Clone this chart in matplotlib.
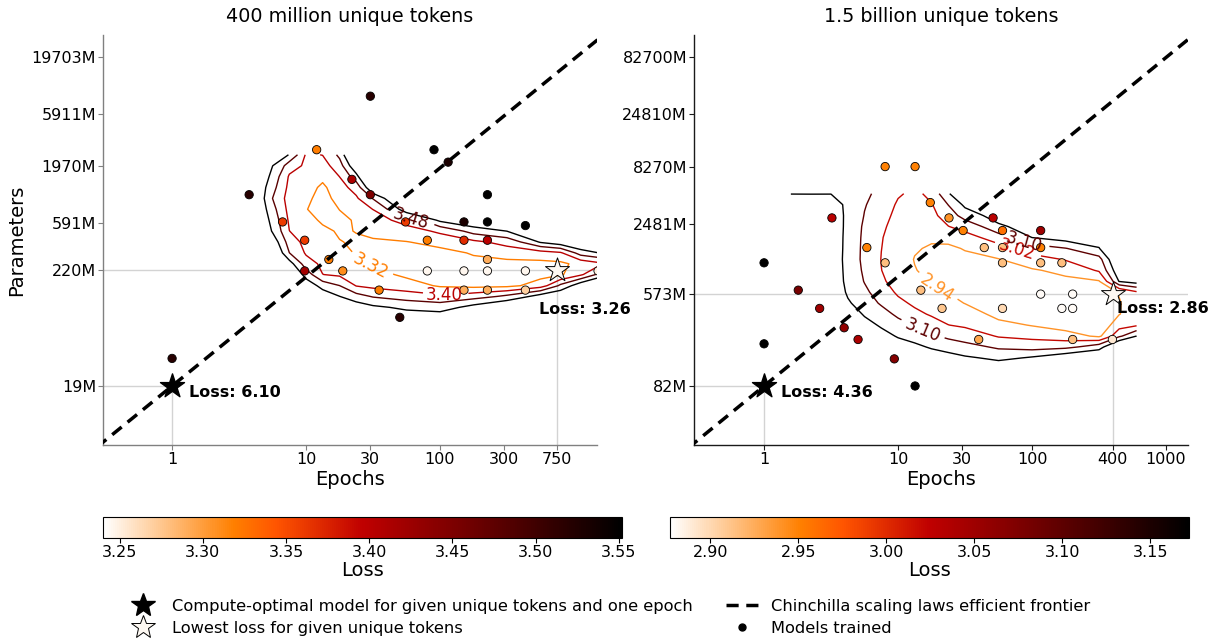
import numpy as np
import matplotlib
matplotlib.use("Agg")
import matplotlib.pyplot as plt
from matplotlib.colors import Normalize
from matplotlib.cm import ScalarMappable
from matplotlib.lines import Line2D

# ---------------- data: 400 million unique tokens ----------------
L_title = "400 million unique tokens"
L_model_epochs = [30.2, 12.0, 90.2, 115, 3.76, 22.0, 30.2, 226, 6.68, 55.3, 151, 226, 434,
                  9.77, 80.4, 151, 226, 14.8, 226, 9.77, 18.8, 80.4, 151, 226, 434, 1514,
                  35.1, 151, 226, 434, 50.1, 1.0]
L_model_params = [8660, 2795, 2795, 2150, 1081, 1494, 1081, 1081, 608, 608, 608, 608, 563,
                  413, 413, 413, 413, 275, 275, 216, 216, 216, 216, 216, 216, 216,
                  144, 144, 144, 144, 81, 34]
L_model_loss = [3.52, 3.32, 3.60, 3.53, 3.52, 3.41, 3.45, 3.55, 3.36, 3.36, 3.53, 3.57, 3.58,
                3.36, 3.32, 3.37, 3.40, 3.32, 3.29, 3.42, 3.31, 3.245, 3.245, 3.245, 3.245, 3.25,
                3.32, 3.29, 3.29, 3.27, 3.52, 3.52]
L_opt = (1, 19, 6.10)
L_best = (750, 220, 3.26)
L_xticks = [1, 10, 30, 100, 300, 750]
L_yticks = [19, 220, 591, 1970, 5911, 19703]
L_xlim = (0.305, 1486)
L_ylim = (5.46, 31550)
L_vmin, L_vmax = 3.24, 3.552
L_cbar_ticks = [3.25, 3.30, 3.35, 3.40, 3.45, 3.50, 3.55]
L_levels = [3.32, 3.40, 3.48, 3.56]
L_grid_epochs = [3.16, 4.22, 5.62, 7.50, 10.0, 13.3, 17.8, 23.7, 31.6, 56.2, 100, 178, 316, 562, 794, 1122, 1585]
L_grid_params = [2512, 1995, 1585, 1259, 1000, 794, 631, 501, 398, 316, 251, 200, 158, 126, 100, 79.4, 63.1]
# each inner list: loss along params (top to bottom) for one epoch value
L_loss_by_epoch = [
    [3.90, 3.87, 3.83, 3.80, 3.79, 3.80, 3.82, 3.85, 3.88, 3.92, 3.96, 4.00, 4.04, 4.08, 4.12, 4.16, 4.20],
    [3.72, 3.69, 3.66, 3.63, 3.63, 3.64, 3.66, 3.69, 3.72, 3.76, 3.80, 3.85, 3.90, 3.95, 4.00, 4.05, 4.10],
    [3.64, 3.562, 3.53, 3.505, 3.48, 3.506, 3.529, 3.551, 3.61, 3.66, 3.70, 3.75, 3.80, 3.85, 3.90, 3.95, 4.00],
    [3.555, 3.44, 3.39, 3.377, 3.362, 3.372, 3.387, 3.401, 3.441, 3.481, 3.595, 3.68, 3.76, 3.84, 3.90, 3.95, 4.00],
    [3.39, 3.383, 3.366, 3.349, 3.333, 3.322, 3.34, 3.356, 3.373, 3.39, 3.433, 3.52, 3.617, 3.71, 3.78, 3.84, 3.90],
    [3.402, 3.37, 3.341, 3.305, 3.295, 3.298, 3.31, 3.332, 3.349, 3.366, 3.383, 3.401, 3.526, 3.613, 3.70, 3.77, 3.83],
    [3.50, 3.447, 3.401, 3.374, 3.347, 3.321, 3.31, 3.313, 3.322, 3.344, 3.365, 3.385, 3.481, 3.561, 3.63, 3.70, 3.76],
    [3.76, 3.645, 3.53, 3.43, 3.39, 3.37, 3.325, 3.322, 3.313, 3.313, 3.335, 3.365, 3.396, 3.51, 3.605, 3.68, 3.75],
    [4.06, 3.93, 3.79, 3.66, 3.485, 3.401, 3.367, 3.336, 3.313, 3.30, 3.31, 3.34, 3.376, 3.473, 3.575, 3.65, 3.72],
    [4.28, 4.15, 4.00, 3.88, 3.75, 3.62, 3.436, 3.365, 3.318, 3.30, 3.29, 3.305, 3.35, 3.442, 3.54, 3.615, 3.68],
    [4.37, 4.24, 4.10, 3.98, 3.84, 3.71, 3.58, 3.418, 3.344, 3.30, 3.287, 3.29, 3.31, 3.41, 3.53, 3.60, 3.66],
    [4.43, 4.30, 4.17, 4.03, 3.90, 3.77, 3.64, 3.516, 3.383, 3.327, 3.30, 3.28, 3.295, 3.445, 3.59, 3.66, 3.72],
    [4.48, 4.35, 4.20, 4.08, 3.95, 3.82, 3.69, 3.561, 3.433, 3.353, 3.30, 3.27, 3.30, 3.50, 3.65, 3.75, 3.85],
    [4.60, 4.50, 4.36, 4.23, 4.10, 3.97, 3.84, 3.71, 3.57, 3.368, 3.30, 3.29, 3.36, 3.60, 3.70, 3.80, 3.90],
    [4.66, 4.53, 4.40, 4.27, 4.14, 4.00, 3.88, 3.75, 3.62, 3.39, 3.305, 3.31, 3.50, 3.63, 3.72, 3.82, 3.90],
    [4.70, 4.58, 4.45, 4.31, 4.18, 4.05, 3.92, 3.79, 3.66, 3.52, 3.345, 3.385, 3.62, 3.72, 3.80, 3.88, 3.95],
    [4.76, 4.63, 4.50, 4.36, 4.23, 4.10, 3.96, 3.83, 3.70, 3.565, 3.385, 3.52, 3.68, 3.78, 3.86, 3.93, 3.98],
]
L_label_pos = [(30.2, 235), (107, 128), (60.3, 629)]

# ---------------- data: 1.5 billion unique tokens ----------------
R_title = "1.5 billion unique tokens"
R_model_epochs = [8.01, 13.4, 17.4, 24.0, 51.2, 3.21, 30.6, 60.2, 116, 5.85, 44, 60.2, 116,
                  8.01, 60.2, 116, 167, 1.0, 1.80, 14.8, 116, 201, 2.6, 21.3, 60.2, 167, 201,
                  3.96, 5.03, 40, 201, 398, 1.0, 9.38, 13.4]
R_model_params = [8270, 8270, 3880, 2810, 2810, 2810, 2155, 2155, 2155, 1506, 1506, 1506, 1506,
                  1093, 1093, 1093, 1093, 1093, 615, 615, 566, 566, 419, 419, 419, 419, 419,
                  279, 218, 218, 218, 218, 199, 145, 82]
R_model_loss = [2.95, 2.95, 2.95, 2.94, 3.03, 3.03, 2.95, 2.96, 3.05, 2.95, 2.915, 2.915, 2.95,
                2.915, 2.915, 2.915, 2.915, 3.40, 3.08, 2.915, 2.88, 2.88, 3.05, 2.91, 2.90, 2.88, 2.88,
                3.06, 3.04, 2.93, 2.915, 2.89, 3.40, 3.07, 3.30]
R_opt = (1, 82, 4.36)
R_best = (400, 573, 2.86)
R_xticks = [1, 10, 30, 100, 400, 1000]
R_yticks = [82, 573, 2481, 8270, 24810, 82700]
R_xlim = (0.30, 1459)
R_ylim = (23.7, 131600)
R_vmin, R_vmax = 2.877, 3.172
R_cbar_ticks = [2.90, 2.95, 3.00, 3.05, 3.10, 3.15]
R_levels = [2.94, 3.02, 3.10, 3.18]
R_grid_epochs = [1.585, 2.24, 3.16, 4.22, 5.62, 7.50, 10.0, 13.3, 17.8, 23.7, 31.6, 56.2, 100, 178, 316, 447, 603]
R_grid_params = [4677, 3715, 2951, 2344, 1862, 1479, 1175, 933, 741, 589, 468, 372, 295, 234, 186, 148, 117.5, 93.3]
R_loss_by_epoch = [
    [3.178, 3.23, 3.28, 3.32, 3.35, 3.37, 3.38, 3.39, 3.40, 3.41, 3.42, 3.43, 3.45, 3.47, 3.49, 3.51, 3.53, 3.55],
    [3.178, 3.22, 3.26, 3.29, 3.31, 3.32, 3.33, 3.33, 3.34, 3.35, 3.36, 3.38, 3.40, 3.42, 3.44, 3.46, 3.48, 3.50],
    [3.178, 3.225, 3.24, 3.24, 3.233, 3.23, 3.225, 3.228, 3.23, 3.25, 3.28, 3.29, 3.33, 3.38, 3.43, 3.48, 3.52, 3.56],
    [3.157, 3.157, 3.156, 3.155, 3.155, 3.155, 3.155, 3.157, 3.16, 3.167, 3.19, 3.23, 3.28, 3.33, 3.38, 3.43, 3.48, 3.52],
    [3.118, 3.105, 3.097, 3.087, 3.082, 3.079, 3.077, 3.085, 3.096, 3.116, 3.137, 3.17, 3.21, 3.25, 3.30, 3.35, 3.40, 3.45],
    [3.071, 3.058, 3.043, 3.032, 3.024, 3.021, 3.018, 3.021, 3.031, 3.058, 3.09, 3.129, 3.168, 3.21, 3.26, 3.31, 3.36, 3.41],
    [3.029, 3.01, 3.0, 2.99, 2.982, 2.976, 2.974, 2.978, 2.988, 3.007, 3.039, 3.083, 3.127, 3.172, 3.22, 3.27, 3.32, 3.37],
    [3.0, 2.99, 2.98, 2.97, 2.957, 2.947, 2.937, 2.943, 2.96, 2.985, 3.005, 3.039, 3.089, 3.143, 3.20, 3.25, 3.30, 3.35],
    [3.046, 3.015, 3.0, 2.975, 2.955, 2.93, 2.92, 2.92, 2.93, 2.957, 2.983, 3.01, 3.054, 3.109, 3.169, 3.23, 3.28, 3.33],
    [3.175, 3.102, 3.06, 3.018, 2.967, 2.925, 2.915, 2.912, 2.918, 2.935, 2.96, 2.99, 3.021, 3.082, 3.146, 3.21, 3.26, 3.31],
    [3.24, 3.20, 3.135, 3.052, 2.99, 2.946, 2.92, 2.905, 2.90, 2.91, 2.938, 2.973, 3.007, 3.061, 3.126, 3.19, 3.25, 3.30],
    [3.35, 3.29, 3.23, 3.162, 3.066, 2.992, 2.937, 2.91, 2.895, 2.89, 2.895, 2.915, 2.961, 3.013, 3.086, 3.162, 3.23, 3.28],
    [3.42, 3.36, 3.30, 3.24, 3.181, 3.067, 2.99, 2.932, 2.905, 2.89, 2.885, 2.895, 2.935, 2.998, 3.065, 3.19, 3.25, 3.30],
    [3.47, 3.41, 3.35, 3.29, 3.224, 3.097, 3.026, 2.966, 2.92, 2.895, 2.885, 2.885, 2.905, 2.97, 3.08, 3.24, 3.30, 3.35],
    [3.48, 3.42, 3.36, 3.30, 3.238, 3.175, 3.072, 3.031, 2.935, 2.905, 2.89, 2.885, 2.895, 2.925, 3.15, 3.26, 3.33, 3.40],
    [3.67, 3.61, 3.55, 3.49, 3.43, 3.37, 3.31, 3.25, 3.185, 2.945, 2.935, 2.937, 2.981, 3.086, 3.30, 3.40, 3.48, 3.55],
    [3.70, 3.64, 3.58, 3.52, 3.46, 3.40, 3.34, 3.28, 3.22, 3.01, 2.985, 2.985, 3.008, 3.182, 3.30, 3.40, 3.48, 3.55],
]
R_label_pos = [(19, 615), (76.9, 1426), (86.5, 1640), (15, 257)]

legend_labels = ["Compute-optimal model for given unique tokens and one epoch",
                 "Lowest loss for given unique tokens",
                 "Chinchilla scaling laws efficient frontier",
                 "Models trained"]

# ---------------- drawing ----------------
cmap = plt.get_cmap("gist_heat_r")
W, H = 1217, 641
fig = plt.figure(figsize=(W / 100, H / 100), dpi=100)

ax_L = fig.add_axes([103 / W, 1 - 445 / H, 494 / W, 410 / H])
ax_R = fig.add_axes([694 / W, 1 - 445 / H, 494 / W, 410 / H])
cax_L = fig.add_axes([103 / W, 1 - 538 / H, 519 / W, 21 / H])
cax_R = fig.add_axes([670 / W, 1 - 538 / H, 519 / W, 21 / H])

panels = [
    (ax_L, cax_L, L_title, L_model_epochs, L_model_params, L_model_loss, L_opt, L_best,
     L_xticks, L_yticks, L_xlim, L_ylim, L_vmin, L_vmax, L_cbar_ticks, L_levels,
     L_grid_epochs, L_grid_params, L_loss_by_epoch, L_label_pos, "#808080",
     (-18, -39)),
    (ax_R, cax_R, R_title, R_model_epochs, R_model_params, R_model_loss, R_opt, R_best,
     R_xticks, R_yticks, R_xlim, R_ylim, R_vmin, R_vmax, R_cbar_ticks, R_levels,
     R_grid_epochs, R_grid_params, R_loss_by_epoch, R_label_pos, "#1a1a1a",
     (4, -15)),
]

guide = "#d3d3d3"
for (ax, cax, title, me, mp, ml, opt, best, xt, yt, xlim, ylim, vmin, vmax, cbt, levels,
     ge, gp, gl, lpos, spc, best_off) in panels:
    norm = Normalize(vmin=vmin, vmax=vmax)
    ax.set_xscale("log")
    ax.set_yscale("log")
    ax.set_xlim(xlim)
    ax.set_ylim(ylim)

    # guide lines
    ax.plot([xlim[0], opt[0]], [opt[1], opt[1]], color=guide, lw=1, zorder=1)
    ax.plot([opt[0], opt[0]], [ylim[0], opt[1]], color=guide, lw=1, zorder=1)
    ax.axhline(best[1], color=guide, lw=1, zorder=1)
    ax.plot([best[0], best[0]], [ylim[0], best[1]], color=guide, lw=1, zorder=1)

    # contours
    Z = np.array(gl).T
    cs = ax.contour(np.array(ge), np.array(gp), Z, levels=levels, cmap=cmap, norm=norm,
                    linewidths=1.0, zorder=2)
    ax.clabel(cs, levels=levels[:3], manual=lpos, inline=True, fontsize=12, fmt="%.2f")

    # chinchilla frontier (params proportional to epochs through compute-optimal point)
    fe = np.array([xlim[0] * 0.9, xlim[1] * 1.1])
    ax.plot(fe, opt[1] * fe / opt[0], color="black", lw=2.5, ls=(0, (3.5, 2.2)), zorder=4)

    # models
    ax.scatter(me, mp, c=ml, cmap=cmap, norm=norm, s=36, edgecolors="black",
               linewidths=0.6, zorder=3)

    # stars
    ax.scatter([opt[0]], [opt[1]], marker="*", s=330, color="black", zorder=6)
    ax.scatter([best[0]], [best[1]], marker="*", s=330, facecolor="#fdf8f2",
               edgecolors="black", linewidths=0.7, zorder=6)
    ax.annotate(f"Loss: {opt[2]:.2f}", (opt[0], opt[1]), xytext=(17, -7),
                textcoords="offset pixels", ha="left", va="center", fontsize=11.5,
                fontweight="bold", annotation_clip=False, zorder=7)
    ax.annotate(f"Loss: {best[2]:.2f}", (best[0], best[1]), xytext=best_off,
                textcoords="offset pixels", ha="left", va="center", fontsize=11.5,
                fontweight="bold", annotation_clip=False, zorder=7)

    # axes styling
    ax.set_xticks(xt, labels=[str(t) for t in xt])
    ax.set_yticks(yt, labels=[f"{t}M" for t in yt])
    ax.minorticks_off()
    ax.tick_params(labelsize=11.5, length=3.5, width=0.8, color=spc, pad=1.5)
    for s in ("top", "right"):
        ax.spines[s].set_visible(False)
    for s in ("left", "bottom"):
        ax.spines[s].set_color(spc)
        ax.spines[s].set_linewidth(1.0)
    ax.set_title(title, fontsize=13.8, pad=9)
    ax.set_xlabel("Epochs", fontsize=14, labelpad=2)

    # colorbar
    cb = fig.colorbar(ScalarMappable(norm=norm, cmap=cmap), cax=cax, orientation="horizontal")
    cb.set_ticks(cbt)
    cb.set_ticklabels([f"{t:.2f}" for t in cbt])
    cb.ax.tick_params(labelsize=11.5, length=3.5, width=0.8, pad=1.5)
    cb.outline.set_linewidth(0.8)
    cb.set_label("Loss", fontsize=14, labelpad=1)

ax_L.set_ylabel("Parameters", fontsize=14)

handles = [
    Line2D([], [], marker="*", color="black", ls="None", markersize=18),
    Line2D([], [], marker="*", markerfacecolor="#fdf8f2", markeredgecolor="black",
           markeredgewidth=0.7, ls="None", markersize=18),
    Line2D([], [], color="black", lw=2.5, ls=(0, (3.5, 2.2))),
    Line2D([], [], marker="o", color="black", ls="None", markersize=5),
]
fig.legend(handles, legend_labels, loc="center", bbox_to_anchor=(0.5, 0.037), ncol=2,
           frameon=False, fontsize=11.7, handletextpad=0.8, columnspacing=2.0,
           labelspacing=0.4)

fig.savefig("out.png", dpi=100)
